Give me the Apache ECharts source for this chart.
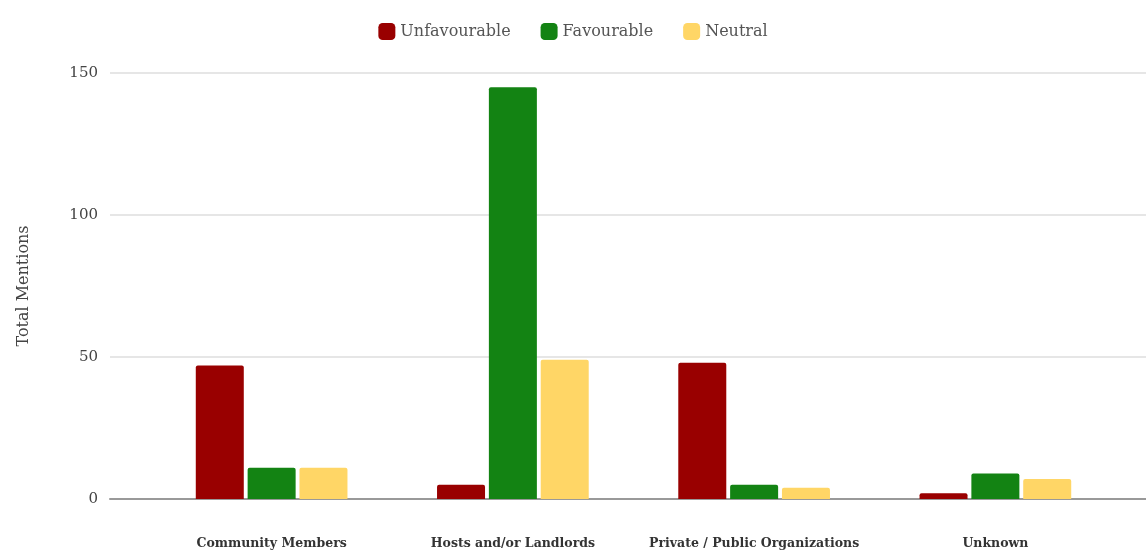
<!DOCTYPE html>
<html>
<head>
<meta charset="utf-8">
<script src="https://cdn.jsdelivr.net/npm/echarts@6/dist/echarts.min.js"></script>
<style>
  html, body { margin: 0; padding: 0; background: #fff; }
  #chart { width: 1146px; height: 550px; }
</style>
</head>
<body>
<div id="chart"></div>
<script>
const categories = ["Community Members", "Hosts and/or Landlords", "Private / Public Organizations", "Unknown"];
const unfavourable = [47, 5, 48, 2];
const favourable = [11, 145, 5, 9];
const neutral = [11, 49, 4, 7];
const yTicks = { min: 0, max: 150, interval: 50 };

const fontFamily = "'DejaVu Serif', 'Liberation Serif', serif";

const chart = echarts.init(document.getElementById("chart"), null, { renderer: "canvas" });

const barSeries = (name, data, color) => ({
    name,
    type: "bar",
    xAxisIndex: 1,
    yAxisIndex: 1,
    data,
    barWidth: 48,
    barGap: "8%",
    itemStyle: { color, borderRadius: [2, 2, 0, 0] },
});

chart.setOption({
    animation: false,
    textStyle: { fontFamily },
    legend: {
        top: 18,
        left: "center",
        itemWidth: 17,
        itemHeight: 17,
        itemGap: 30,
        icon: "roundRect",
        textStyle: { fontFamily, fontSize: 16, color: "#555" },
        data: ["Unfavourable", "Favourable", "Neutral"],
    },
    grid: [
        // background grid: gridlines and axis line across the full width
        { left: 110, right: 0, top: 73, bottom: 51 },
        // bars
        { left: 151, right: 30, top: 73, bottom: 51 },
    ],
    xAxis: [
        {
            gridIndex: 0,
            type: "value",
            min: 0,
            max: 1,
            axisLine: { show: true, onZero: true, lineStyle: { color: "#999", width: 2 } },
            axisTick: { show: false },
            axisLabel: { show: false },
            splitLine: { show: false },
        },
        {
            gridIndex: 1,
            type: "category",
            data: categories,
            axisLine: { show: false },
            axisTick: { show: false },
            axisLabel: {
                interval: 0,
                margin: 38,
                fontFamily,
                fontSize: 12.5,
                fontWeight: "bold",
                color: "#333",
            },
        },
    ],
    yAxis: [
        {
            gridIndex: 0,
            type: "value",
            min: yTicks.min,
            max: yTicks.max,
            interval: yTicks.interval,
            name: "Total Mentions",
            nameLocation: "middle",
            nameGap: 78,
            nameTextStyle: { fontFamily, fontSize: 16, color: "#444" },
            axisLine: { show: false },
            axisTick: { show: false },
            axisLabel: { margin: 12, fontFamily, fontSize: 15, color: "#444" },
            splitLine: { lineStyle: { color: "#e6e6e6", width: 2 } },
        },
        {
            gridIndex: 1,
            type: "value",
            min: yTicks.min,
            max: yTicks.max,
            interval: yTicks.interval,
            show: false,
            splitLine: { show: false },
        },
    ],
    series: [
        barSeries("Unfavourable", unfavourable, "#990000"),
        barSeries("Favourable", favourable, "#138313"),
        barSeries("Neutral", neutral, "#ffd666"),
    ],
});
</script>
</body>
</html>
